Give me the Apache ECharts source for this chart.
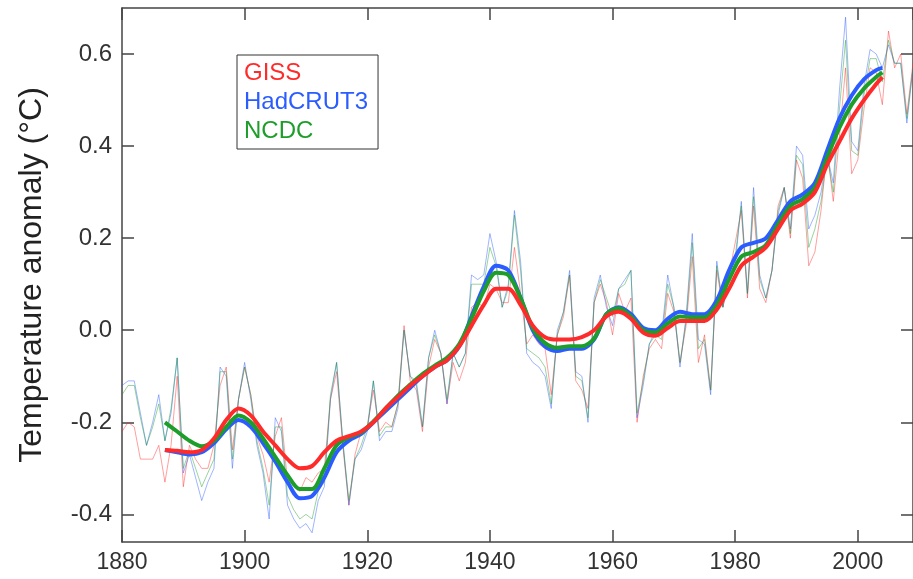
<!DOCTYPE html>
<html>
<head>
<meta charset="utf-8">
<script src="https://cdn.jsdelivr.net/npm/echarts@6/dist/echarts.min.js"></script>
<style>
  html, body { margin: 0; padding: 0; background: #fff; }
  #chart { width: 913px; height: 579px; }
</style>
</head>
<body>
<div id="chart"></div>
<script>
// annual anomalies, 1880-2009
const years = []
for (let y = 1880; y <= 2009; y++) years.push(y)

const gissAnnual = [
  -0.22, -0.20, -0.21, -0.28, -0.28, -0.28, -0.25, -0.33, -0.25, -0.10,
  -0.34, -0.25, -0.28, -0.30, -0.30, -0.25, -0.12, -0.08, -0.26, -0.15,
  -0.08, -0.14, -0.23, -0.27, -0.33, -0.23, -0.19, -0.33, -0.33, -0.35,
  -0.32, -0.33, -0.31, -0.30, -0.15, -0.09, -0.25, -0.38, -0.27, -0.22,
  -0.21, -0.13, -0.22, -0.20, -0.21, -0.16, 0.01, -0.11, -0.13, -0.22,
  -0.08, -0.02, -0.05, -0.16, -0.07, -0.11, -0.07, 0.05, 0.06, 0.05,
  0.10, 0.09, 0.06, 0.06, 0.18, 0.08, -0.03, -0.01, -0.03, -0.04,
  -0.14, -0.01, 0.03, 0.12, -0.11, -0.13, -0.17, 0.06, 0.10, 0.06,
  -0.01, 0.08, 0.04, 0.07, -0.20, -0.10, -0.04, -0.02, -0.04, 0.08,
  0.04, -0.07, 0.01, 0.16, -0.07, -0.01, -0.13, 0.13, 0.05, 0.12,
  0.19, 0.26, 0.07, 0.27, 0.09, 0.06, 0.13, 0.27, 0.31, 0.20,
  0.37, 0.33, 0.14, 0.17, 0.26, 0.39, 0.28, 0.42, 0.57, 0.34,
  0.37, 0.48, 0.57, 0.56, 0.49, 0.65, 0.57, 0.60, 0.47, 0.58
]
const hadcrutAnnual = [
  -0.12, -0.11, -0.11, -0.18, -0.25, -0.20, -0.14, -0.24, -0.18, -0.06,
  -0.31, -0.27, -0.32, -0.37, -0.33, -0.30, -0.08, -0.10, -0.30, -0.15,
  -0.07, -0.15, -0.25, -0.31, -0.41, -0.19, -0.22, -0.38, -0.41, -0.43,
  -0.42, -0.44, -0.37, -0.34, -0.15, -0.07, -0.24, -0.38, -0.28, -0.26,
  -0.22, -0.11, -0.24, -0.22, -0.22, -0.17, 0.00, -0.10, -0.12, -0.21,
  -0.06, 0.00, -0.05, -0.16, -0.05, -0.08, -0.05, 0.12, 0.11, 0.12,
  0.21, 0.15, 0.05, 0.10, 0.26, 0.15, -0.05, -0.07, -0.08, -0.10,
  -0.17, 0.00, 0.04, 0.13, -0.09, -0.10, -0.20, 0.07, 0.12, 0.05,
  0.01, 0.09, 0.11, 0.13, -0.19, -0.12, -0.03, 0.00, -0.01, 0.12,
  0.05, -0.08, 0.03, 0.21, -0.02, -0.03, -0.14, 0.15, 0.05, 0.12,
  0.14, 0.28, 0.08, 0.31, 0.12, 0.07, 0.13, 0.25, 0.31, 0.22,
  0.40, 0.38, 0.22, 0.25, 0.30, 0.38, 0.32, 0.52, 0.68, 0.41,
  0.39, 0.53, 0.61, 0.60, 0.57, 0.62, 0.58, 0.58, 0.45, 0.57
]
const ncdcAnnual = [
  -0.14, -0.12, -0.12, -0.19, -0.25, -0.21, -0.16, -0.24, -0.17, -0.06,
  -0.30, -0.26, -0.30, -0.34, -0.31, -0.28, -0.09, -0.09, -0.28, -0.15,
  -0.08, -0.14, -0.24, -0.30, -0.38, -0.21, -0.21, -0.36, -0.39, -0.41,
  -0.40, -0.41, -0.35, -0.33, -0.14, -0.07, -0.24, -0.37, -0.28, -0.25,
  -0.21, -0.11, -0.23, -0.21, -0.21, -0.16, 0.00, -0.10, -0.11, -0.21,
  -0.06, -0.01, -0.05, -0.15, -0.05, -0.08, -0.05, 0.10, 0.10, 0.10,
  0.18, 0.14, 0.05, 0.09, 0.25, 0.13, -0.04, -0.05, -0.06, -0.08,
  -0.16, -0.01, 0.04, 0.12, -0.10, -0.11, -0.19, 0.06, 0.11, 0.07,
  0.03, 0.09, 0.10, 0.13, -0.18, -0.11, -0.03, -0.01, -0.02, 0.10,
  0.05, -0.07, 0.02, 0.19, -0.04, -0.02, -0.13, 0.14, 0.05, 0.12,
  0.16, 0.27, 0.08, 0.29, 0.11, 0.07, 0.13, 0.26, 0.31, 0.21,
  0.38, 0.36, 0.18, 0.22, 0.28, 0.38, 0.30, 0.48, 0.63, 0.39,
  0.38, 0.51, 0.59, 0.59, 0.54, 0.63, 0.58, 0.58, 0.46, 0.57
]

// smoothed curves, read every other year
const smoothYears = [
  1887, 1889, 1891, 1893, 1895, 1897, 1899, 1901, 1903, 1905,
  1907, 1909, 1911, 1913, 1915, 1917, 1919, 1921, 1923, 1925,
  1927, 1929, 1931, 1933, 1935, 1937, 1939, 1941, 1943, 1945,
  1947, 1949, 1951, 1953, 1955, 1957, 1959, 1961, 1963, 1965,
  1967, 1969, 1971, 1973, 1975, 1977, 1979, 1981, 1983, 1985,
  1987, 1989, 1991, 1993, 1995, 1997, 1999, 2001, 2003, 2004
]
const gissSmooth = [
  -0.26, -0.262, -0.265, -0.26, -0.235, -0.195, -0.17, -0.185, -0.22, -0.25,
  -0.28, -0.30, -0.295, -0.265, -0.24, -0.23, -0.22, -0.20, -0.17, -0.145,
  -0.12, -0.10, -0.08, -0.065, -0.035, 0.01, 0.055, 0.09, 0.09, 0.055,
  0.01, -0.015, -0.02, -0.02, -0.015, 0.0, 0.03, 0.04, 0.025, -0.005,
  -0.012, 0.005, 0.02, 0.02, 0.02, 0.045, 0.09, 0.14, 0.16, 0.18,
  0.22, 0.26, 0.275, 0.30, 0.36, 0.41, 0.46, 0.50, 0.535, 0.55
]
const hadcrutSmooth = [
  -0.26, -0.265, -0.27, -0.265, -0.245, -0.215, -0.195, -0.21, -0.245, -0.285,
  -0.33, -0.365, -0.36, -0.32, -0.265, -0.24, -0.225, -0.20, -0.175, -0.15,
  -0.125, -0.10, -0.08, -0.065, -0.035, 0.03, 0.095, 0.14, 0.13, 0.07,
  0.0, -0.035, -0.045, -0.04, -0.04, -0.02, 0.035, 0.05, 0.035, 0.005,
  0.0, 0.025, 0.04, 0.035, 0.035, 0.065, 0.13, 0.18, 0.19, 0.20,
  0.24, 0.28, 0.295, 0.32, 0.39, 0.46, 0.51, 0.545, 0.565, 0.57
]
const ncdcSmooth = [
  -0.20, -0.22, -0.24, -0.252, -0.24, -0.21, -0.185, -0.20, -0.235, -0.275,
  -0.315, -0.345, -0.345, -0.30, -0.25, -0.232, -0.222, -0.198, -0.17, -0.142,
  -0.118, -0.095, -0.077, -0.06, -0.03, 0.025, 0.085, 0.125, 0.12, 0.07,
  0.005, -0.028, -0.038, -0.035, -0.035, -0.018, 0.035, 0.048, 0.03, 0.0,
  -0.005, 0.015, 0.03, 0.028, 0.028, 0.055, 0.11, 0.16, 0.17, 0.185,
  0.23, 0.27, 0.285, 0.31, 0.375, 0.44, 0.49, 0.525, 0.55, 0.56
]

const yTicks = [-0.4, -0.2, 0, 0.2, 0.4, 0.6]

const RED = '#ff2a2a'
const BLUE = '#2a5cff'
const GREEN = '#1d9e2a'
const FONT = 'Liberation Sans, Arial, sans-serif'

function pairs(xs, ys) {
  return xs.map((x, i) => [x, ys[i]])
}

function thin(name, data, color) {
  return {
    name, type: 'line', data: pairs(years, data), symbol: 'none',
    lineStyle: { width: 1, color, opacity: 0.45 }, z: 2, silent: true,
  }
}

function thick(name, data, color, z) {
  return {
    name, type: 'line', data: pairs(smoothYears, data), symbol: 'none', smooth: 0.3,
    lineStyle: { width: 4, color }, itemStyle: { color }, z,
  }
}

const chart = echarts.init(document.getElementById('chart'))

const axisLine = { show: true, onZero: false, lineStyle: { color: '#444', width: 1.5 } }
const tick = { show: true, inside: true, length: 12, lineStyle: { color: '#444', width: 1.5 } }

chart.setOption({
  animation: false,
  backgroundColor: '#fff',
  grid: { left: 122, right: 0, top: 8, bottom: 37 },
  legend: {
    orient: 'vertical',
    left: 237, top: 55,
    icon: 'none', itemWidth: 0, itemHeight: 22, itemGap: 5,
    padding: [6, 10, 6, 2],
    borderColor: '#333', borderWidth: 1,
    textStyle: { fontFamily: FONT, fontSize: 24 },
    data: [
      { name: 'GISS', textStyle: { color: RED } },
      { name: 'HadCRUT3', textStyle: { color: BLUE } },
      { name: 'NCDC', textStyle: { color: GREEN } },
    ],
    selectedMode: false,
  },
  xAxis: [
    {
      type: 'value', min: 1880, max: 2009, interval: 20,
      axisLine, axisTick: tick, splitLine: { show: false },
      axisLabel: { color: '#333', fontFamily: FONT, fontSize: 23, margin: 9, showMaxLabel: false,
        formatter: v => String(v) },
    },
    {
      type: 'value', position: 'top', min: 1880, max: 2009, interval: 20,
      axisLine, axisTick: tick, splitLine: { show: false }, axisLabel: { show: false },
    },
  ],
  yAxis: [
    {
      type: 'value', min: -0.46, max: 0.7,
      name: 'Temperature anomaly (°C)', nameLocation: 'middle', nameGap: 74,
      nameTextStyle: { color: '#222', fontFamily: FONT, fontSize: 32 },
      axisLine, splitLine: { show: false },
      axisTick: { ...tick, customValues: yTicks },
      axisLabel: { color: '#333', fontFamily: FONT, fontSize: 24, margin: 10, customValues: yTicks,
        formatter: v => v.toFixed(1) },
    },
    {
      type: 'value', position: 'right', min: -0.46, max: 0.7,
      axisLine, splitLine: { show: false },
      axisTick: { ...tick, customValues: yTicks }, axisLabel: { show: false },
    },
  ],
  series: [
    thin('GISS', gissAnnual, RED),
    thin('HadCRUT3', hadcrutAnnual, BLUE),
    thin('NCDC', ncdcAnnual, GREEN),
    thick('HadCRUT3', hadcrutSmooth, BLUE, 5),
    thick('NCDC', ncdcSmooth, GREEN, 6),
    thick('GISS', gissSmooth, RED, 7),
  ],
})
</script>
</body>
</html>
